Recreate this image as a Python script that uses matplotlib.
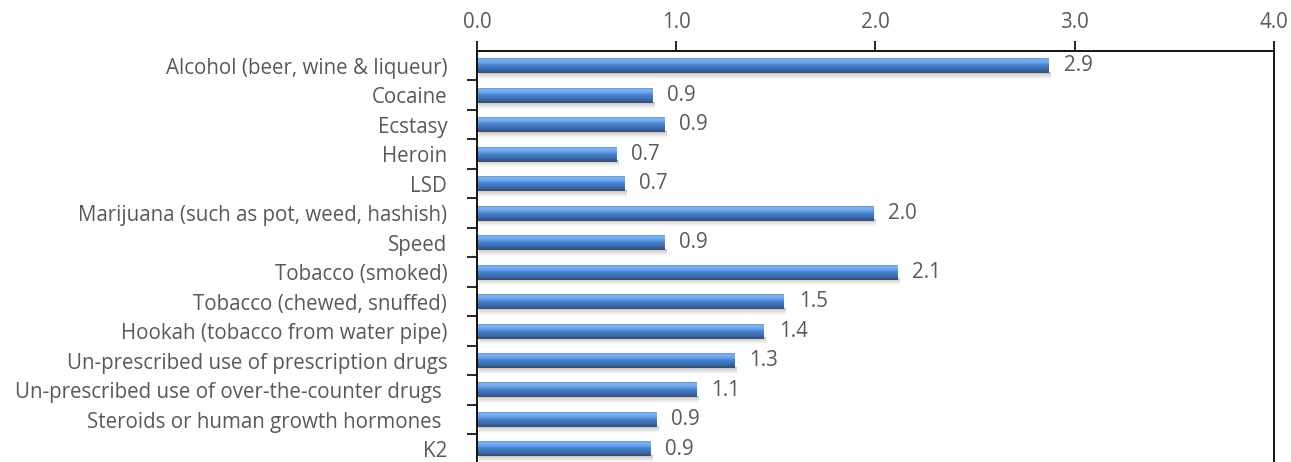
import matplotlib

matplotlib.use("Agg")
import matplotlib.pyplot as plt
import numpy as np
from matplotlib.colors import LinearSegmentedColormap

categories = [
    "Alcohol (beer, wine & liqueur)",
    "Cocaine",
    "Ecstasy",
    "Heroin",
    "LSD",
    "Marijuana (such as pot, weed, hashish)",
    "Speed",
    "Tobacco (smoked)",
    "Tobacco (chewed, snuffed)",
    "Hookah (tobacco from water pipe)",
    "Un-prescribed use of prescription drugs",
    "Un-prescribed use of over-the-counter drugs ",
    "Steroids or human growth hormones ",
    "K2",
]
values = [2.87, 0.88, 0.94, 0.70, 0.74, 1.99, 0.94, 2.11, 1.54, 1.44, 1.29, 1.10, 0.90, 0.87]
x_ticks = [0.0, 1.0, 2.0, 3.0, 4.0]

plt.rcParams["font.family"] = ["Open Sans", "DejaVu Sans"]
text_color = "#595959"
fs = 14.8

# vertical shading for the bevelled bar look: grey rim, bright band, mid blue, dark base
bar_cmap = LinearSegmentedColormap.from_list(
    "bevel",
    [(0.0, "#7d93b0"), (0.1, "#7fb4f2"), (0.3, "#6aa3ec"), (0.45, "#4c84cf"),
     (0.75, "#3a6db3"), (0.9, "#2e5a96"), (1.0, "#3c4d63")],
)
grad = np.linspace(0, 1, 64).reshape(-1, 1)
shadow_cmap = LinearSegmentedColormap.from_list("shade", ["#b0b0b0", "#ffffff"])

fig = plt.figure(figsize=(12.91, 4.62), dpi=100)
ax = fig.add_axes([0.3695, -0.004, 0.6173, 0.8936])

bar_h = 0.5
for i, v in enumerate(values):
    # soft drop shadow fading out under each bar
    ax.imshow(grad, cmap=shadow_cmap, aspect="auto", zorder=1, alpha=0.8,
              extent=(0.01, v + 0.01, i + bar_h / 2 + 0.2, i + bar_h / 2 - 0.02),
              interpolation="bilinear")
    ax.imshow(grad, cmap=bar_cmap, aspect="auto", zorder=2,
              extent=(0, v, i + bar_h / 2, i - bar_h / 2), interpolation="bilinear")
    ax.text(v + 0.075, i, f"{v:.1f}", va="center", ha="left",
            fontsize=fs, color=text_color)

ax.set_xlim(0, 4.0)
ax.set_ylim(len(categories) - 0.5, -0.5)
ax.xaxis.tick_top()
ax.set_xticks(x_ticks)
ax.set_xticklabels([f"{t:.1f}" for t in x_ticks], fontsize=fs, color=text_color)
ax.tick_params(axis="x", direction="out", length=7, width=1.2, pad=6)

ax.set_yticks(range(len(categories)))
ax.set_yticklabels(categories, fontsize=fs, color=text_color)
ax.set_yticks(np.arange(0.5, len(categories) - 0.5, 1.0), minor=True)
ax.tick_params(axis="y", which="major", length=0, pad=21.5)
ax.tick_params(axis="y", which="minor", direction="out", length=7, width=1.2)

for side in ["top", "left", "right"]:
    ax.spines[side].set_linewidth(1.3)
ax.spines["bottom"].set_visible(False)

fig.savefig("out.png", dpi=100)
plt.close(fig)
